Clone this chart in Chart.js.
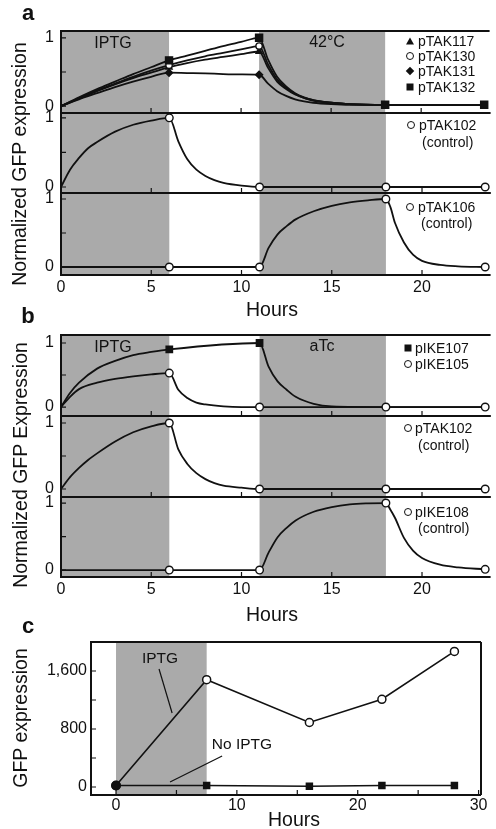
<!DOCTYPE html>
<html>
<head>
<meta charset="utf-8">
<script src="https://cdn.jsdelivr.net/npm/chart.js@4.4.1/dist/chart.umd.min.js"></script>
<style>
  body { margin: 0; background: #fff; }
  #page { position: relative; width: 496px; height: 829px; overflow: hidden;
          font-family: "Liberation Sans", Arial, sans-serif; color: #111; }
  .box { position: absolute; left: 0; width: 496px; }
  .t  { position: absolute; transform: translate(-50%, -50%); line-height: 1; white-space: nowrap; z-index: 2; }
  .l  { position: absolute; transform: translateY(-50%); line-height: 1; white-space: nowrap; font-size: 14px; z-index: 2; }
  .vt { position: absolute; transform: translate(-50%, -50%) rotate(-90deg); line-height: 1;
        white-space: nowrap; font-size: 19.5px; z-index: 2; }
  .mk { position: absolute; transform: translate(-50%, -50%); z-index: 2; box-sizing: border-box; }
  .tri  { width: 0; height: 0; border-left: 4px solid transparent; border-right: 4px solid transparent; border-bottom: 7px solid #111; }
  .circ { width: 8px; height: 8px; border: 1.5px solid #111; border-radius: 50%; background: #fff; }
  .dia  { width: 6px; height: 6px; background: #111; transform: translate(-50%, -50%) rotate(45deg); }
  .sq   { width: 7px; height: 7px; background: #111; }
  .big  { font-size: 19.5px; }
  .let  { font-size: 22px; font-weight: bold; }
</style>
</head>
<body>
<div id="page">
  <!-- panel a -->
  <div class="t let" style="left:28px;top:13px">a</div>
  <div class="vt" style="left:20px;top:164px">Normalized GFP expression</div>
  <div class="t" style="left:113px;top:43px;font-size:16px">IPTG</div>
  <div class="t" style="left:327px;top:42px;font-size:16px">42°C</div>
  <div class="mk tri"  style="left:410px;top:41px"></div><div class="l" style="left:418px;top:41px">pTAK117</div>
  <div class="mk circ" style="left:410px;top:56px"></div><div class="l" style="left:418px;top:56px">pTAK130</div>
  <div class="mk dia"  style="left:410px;top:71px"></div><div class="l" style="left:418px;top:71px">pTAK131</div>
  <div class="mk sq"   style="left:410px;top:87px"></div><div class="l" style="left:418px;top:87px">pTAK132</div>
  <div class="mk circ" style="left:411px;top:125px"></div><div class="l" style="left:419px;top:125px">pTAK102</div>
  <div class="l" style="left:422px;top:142px">(control)</div>
  <div class="mk circ" style="left:410px;top:207px"></div><div class="l" style="left:418px;top:207px">pTAK106</div>
  <div class="l" style="left:421px;top:223px">(control)</div>
  <div class="t big" style="left:272px;top:310px">Hours</div>

  <!-- panel b -->
  <div class="t let" style="left:28px;top:316px">b</div>
  <div class="vt" style="left:21px;top:465px">Normalized GFP Expression</div>
  <div class="t" style="left:113px;top:347px;font-size:16px">IPTG</div>
  <div class="t" style="left:322px;top:346px;font-size:16px">aTc</div>
  <div class="mk sq"   style="left:408px;top:348px"></div><div class="l" style="left:415px;top:348px">pIKE107</div>
  <div class="mk circ" style="left:408px;top:364px"></div><div class="l" style="left:415px;top:364px">pIKE105</div>
  <div class="mk circ" style="left:408px;top:428px"></div><div class="l" style="left:415px;top:428px">pTAK102</div>
  <div class="l" style="left:418px;top:445px">(control)</div>
  <div class="mk circ" style="left:408px;top:512px"></div><div class="l" style="left:415px;top:512px">pIKE108</div>
  <div class="l" style="left:418px;top:528px">(control)</div>
  <div class="t big" style="left:272px;top:615px">Hours</div>

  <!-- panel c -->
  <div class="t let" style="left:28px;top:626px">c</div>
  <div class="vt" style="left:21px;top:718px">GFP expression</div>
  <div class="t" style="left:160px;top:658px;font-size:15.5px">IPTG</div>
  <div class="t" style="left:242px;top:744px;font-size:15.5px">No IPTG</div>
  <div class="t big" style="left:294px;top:820px">Hours</div>
</div>

<script>
/* Figure: normalized GFP time courses (a, b) and raw GFP with/without IPTG (c) */

const SHADE = '#aaaaaa';
const INK   = '#111';
const PAD   = 10;

// ---- panel a, top: IPTG 0-6 h, 42°C 11-18 h
const aHoursTop = [0, 1, 2, 3, 4, 5, 6, 7, 8, 9, 10, 11, 11.5, 12, 12.5, 13, 13.5, 14, 15, 16, 18, 23.5];
const aTAK132   = [0, 0.13, 0.25, 0.36, 0.47, 0.57, 0.67, 0.74, 0.81, 0.88, 0.94, 1.0, 0.68, 0.43, 0.29, 0.19, 0.13, 0.09, 0.05, 0.03, 0.02, 0.02];
const aTAK130   = [0, 0.12, 0.23, 0.33, 0.43, 0.52, 0.6, 0.67, 0.73, 0.78, 0.83, 0.88, 0.61, 0.39, 0.27, 0.18, 0.12, 0.09, 0.05, 0.03, 0.02, 0.02];
const aTAK117   = [0, 0.11, 0.22, 0.32, 0.41, 0.49, 0.57, 0.63, 0.68, 0.72, 0.76, 0.8, 0.56, 0.36, 0.25, 0.17, 0.12, 0.08, 0.05, 0.03, 0.02, 0.02];
const aTAK131   = [0, 0.1, 0.19, 0.28, 0.36, 0.43, 0.49, 0.485, 0.48, 0.47, 0.465, 0.46, 0.33, 0.22, 0.15, 0.1, 0.07, 0.05, 0.03, 0.02, 0.02, 0.02];

// ---- panel a, middle / bottom: controls
const aHoursMid = [0, 0.5, 1, 1.5, 2, 3, 4, 5, 6, 6.5, 7, 7.5, 8, 8.5, 9, 10, 11, 18, 23.5];
const aTAK102   = [0, 0.25, 0.42, 0.56, 0.65, 0.8, 0.9, 0.96, 1.0, 0.66, 0.4, 0.25, 0.16, 0.1, 0.06, 0.02, 0, 0, 0];
const aHoursLow = [0, 6, 11, 11.5, 12, 12.5, 13, 14, 15, 16, 17, 18, 18.25, 18.5, 19, 19.5, 20, 21, 22, 23.5];
const aTAK106   = [0, 0, 0, 0.28, 0.48, 0.6, 0.7, 0.82, 0.9, 0.95, 0.98, 1.0, 0.88, 0.65, 0.36, 0.18, 0.09, 0.03, 0.01, 0];

// ---- panel b, top: IPTG 0-6 h, aTc 11-18 h
const bHours107 = [0, 0.5, 1, 2, 3, 4, 5, 6, 11, 11.5, 12, 12.5, 13, 14, 15, 18, 23.5];
const bIKE107   = [0, 0.22, 0.38, 0.6, 0.72, 0.81, 0.86, 0.9, 1.0, 0.63, 0.4, 0.27, 0.16, 0.05, 0.01, 0, 0];
const bHours105 = [0, 0.5, 1, 2, 3, 4, 5, 6, 6.5, 7, 7.5, 8, 9, 10, 11, 18, 23.5];
const bIKE105   = [0, 0.16, 0.28, 0.38, 0.44, 0.48, 0.51, 0.53, 0.27, 0.14, 0.07, 0.04, 0.01, 0, 0, 0, 0];

// ---- panel b, middle / bottom: controls
const bHoursMid = [0, 0.5, 1, 1.5, 2, 3, 4, 5, 6, 6.5, 7, 7.5, 8, 8.5, 9, 10, 11, 18, 23.5];
const bTAK102   = [0, 0.18, 0.32, 0.44, 0.54, 0.72, 0.86, 0.95, 1.0, 0.6, 0.38, 0.24, 0.15, 0.09, 0.05, 0.02, 0, 0, 0];
const bHoursLow = [0, 6, 11, 11.5, 12, 12.5, 13, 14, 15, 16, 17, 18, 18.25, 18.5, 19, 19.5, 20, 21, 22, 23.5];
const bIKE108   = [0, 0, 0, 0.26, 0.49, 0.63, 0.74, 0.87, 0.94, 0.98, 0.995, 1.0, 0.9, 0.78, 0.48, 0.29, 0.18, 0.08, 0.04, 0.01];

const sampleHours = [6, 11, 18, 23.5];   // measured points (markers)
const switchHours = [[0, 6], [11, 18]];  // shaded inducer windows
const abXTicks    = [0, 5, 10, 15, 20];
const abXMarks    = [5, 10, 15, 20];
const abYTicks    = [0, 0.5, 1];
const abYLabels   = [0, 1];

// ---- panel c
const cHours    = [0, 7.5, 16, 22, 28];
const cIPTG     = [20, 1480, 890, 1210, 1870];
const cNoIPTG   = [20, 20, 10, 20, 20];
const cShade    = [[0, 7.5]];
const cXTicks   = [0, 5, 10, 15, 20, 25, 30];
const cXLabels  = [0, 10, 20, 30];
const cYTicks   = [0, 400, 800, 1200, 1600];
const cYLabels  = [0, 800, 1600];
const cPointers = [
  [[3.56, 1628], [4.64, 1021]],   // "IPTG"
  [[8.78, 428], [4.47, 69]]       // "No IPTG"
];

const tickFont = { family: 'Liberation Sans', size: 16 };
const page = document.getElementById('page');

function withCommas(v) {
  return String(v).replace(/\B(?=(\d{3})+(?!\d))/g, ',');
}

function curve(hours, values, marks, style, radius, fill) {
  return {
    data: hours.map((h, i) => ({ x: h, y: values[i] })),
    borderColor: INK,
    borderWidth: 1.8,
    cubicInterpolationMode: 'monotone',
    pointStyle: style,
    pointRadius: c => (c.raw && marks.includes(c.raw.x)) ? radius : 0,
    pointBackgroundColor: fill,
    pointBorderColor: INK,
    pointBorderWidth: 1.4,
    clip: false
  };
}

function makeDeco(o) {
  return {
    id: 'deco',
    beforeDatasetsDraw(chart) {
      const { ctx, chartArea: a, scales: { x, y } } = chart;
      ctx.save();
      ctx.fillStyle = SHADE;
      o.shade.forEach(([s, e]) => {
        const x0 = x.getPixelForValue(s), x1 = x.getPixelForValue(e);
        ctx.fillRect(x0, a.top, x1 - x0, a.bottom - a.top);
      });
      ctx.strokeStyle = INK;
      ctx.lineWidth = 2;
      ctx.beginPath();
      ctx.moveTo(a.left, a.top);    ctx.lineTo(a.left, a.bottom);
      ctx.moveTo(a.left - 1, a.top);    ctx.lineTo(a.right, a.top);
      ctx.moveTo(a.left - 1, a.bottom); ctx.lineTo(a.right, a.bottom);
      if (o.right) { ctx.moveTo(a.right, a.top); ctx.lineTo(a.right, a.bottom); }
      ctx.stroke();
      // inward tick marks
      ctx.lineWidth = 1.2;
      ctx.beginPath();
      y.ticks.forEach(t => {
        const py = y.getPixelForValue(t.value);
        ctx.moveTo(a.left, py); ctx.lineTo(a.left + 5, py);
      });
      o.xMarks.forEach(v => {
        const px = x.getPixelForValue(v);
        ctx.moveTo(px, a.bottom); ctx.lineTo(px, a.bottom - 5);
      });
      ctx.stroke();
      ctx.restore();
    },
    afterDatasetsDraw(chart) {
      if (!o.pointers) return;
      const { ctx, scales: { x, y } } = chart;
      ctx.save();
      ctx.strokeStyle = INK;
      ctx.lineWidth = 1.2;
      o.pointers.forEach(([p, q]) => {
        ctx.beginPath();
        ctx.moveTo(x.getPixelForValue(p[0]), y.getPixelForValue(p[1]));
        ctx.lineTo(x.getPixelForValue(q[0]), y.getPixelForValue(q[1]));
        ctx.stroke();
      });
      ctx.restore();
    }
  };
}

function subplot(top, bottom, o) {
  const axisH = o.axisH || 0;
  const box = document.createElement('div');
  box.className = 'box';
  box.style.top = (top - PAD) + 'px';
  box.style.height = (bottom - top + PAD + (axisH || PAD)) + 'px';
  const cv = document.createElement('canvas');
  box.appendChild(cv);
  page.appendChild(box);

  new Chart(cv, {
    type: 'line',
    data: { datasets: o.datasets },
    options: {
      animation: false,
      responsive: true,
      maintainAspectRatio: false,
      events: [],
      layout: { padding: { top: PAD, bottom: axisH ? 0 : PAD, left: 0, right: o.right || 0 } },
      plugins: { legend: { display: false }, tooltip: { enabled: false } },
      scales: {
        x: {
          type: 'linear', min: o.xMin, max: o.xMax, display: !!axisH,
          grid: { display: false, drawTicks: false }, border: { display: false },
          ticks: { autoSkip: false, maxRotation: 0, padding: o.xPad || 3, font: tickFont, color: INK,
                   callback: v => o.xLabels.includes(v) ? String(v) : '' },
          afterBuildTicks: s => { s.ticks = o.xTicks.map(v => ({ value: v })); },
          afterFit: s => { s.height = axisH; s.paddingLeft = 0; s.paddingRight = 0; }
        },
        y: {
          type: 'linear', min: o.yMin, max: o.yMax,
          grid: { display: false, drawTicks: false }, border: { display: false },
          ticks: { autoSkip: false, padding: o.yPad, font: tickFont, color: INK,
                   callback: v => o.yLabels.includes(v) ? withCommas(v) : '' },
          afterBuildTicks: s => { s.ticks = o.yTicks.map(v => ({ value: v })); },
          afterFit: s => { s.width = o.yW; s.paddingTop = 0; s.paddingBottom = 0; }
        }
      }
    },
    plugins: [makeDeco({ shade: o.shade, xMarks: o.xMarks, right: !!o.right, pointers: o.pointers })]
  });
}

const ab = { xMin: 0, xMax: 23.8, yPad: 7, yW: 61,
             xTicks: abXTicks, xLabels: abXTicks, xMarks: abXMarks,
             yTicks: abYTicks, yLabels: abYLabels, shade: switchHours };

// panel a
subplot(31, 113, Object.assign({}, ab, { yMin: -0.1, yMax: 1.1, datasets: [
  curve(aHoursTop, aTAK132, sampleHours, 'rect', 5, INK),
  curve(aHoursTop, aTAK130, [6, 11], 'circle', 3.2, '#fff'),
  curve(aHoursTop, aTAK117, [6, 11], 'triangle', 3.5, INK),
  curve(aHoursTop, aTAK131, [6, 11], 'rectRot', 3.5, INK)
]}));
subplot(113, 193, Object.assign({}, ab, { yMin: -0.087, yMax: 1.07, datasets: [
  curve(aHoursMid, aTAK102, sampleHours, 'circle', 3.8, '#fff')
]}));
subplot(193, 275, Object.assign({}, ab, { yMin: -0.118, yMax: 1.088, axisH: 48, datasets: [
  curve(aHoursLow, aTAK106, sampleHours, 'circle', 3.8, '#fff')
]}));

// panel b
subplot(335, 416, Object.assign({}, ab, { yMin: -0.14, yMax: 1.125, datasets: [
  curve(bHours105, bIKE105, sampleHours, 'circle', 3.8, '#fff'),
  curve(bHours107, bIKE107, [6, 11], 'rect', 4.5, INK)
]}));
subplot(416, 497, Object.assign({}, ab, { yMin: -0.121, yMax: 1.106, datasets: [
  curve(bHoursMid, bTAK102, sampleHours, 'circle', 3.8, '#fff')
]}));
subplot(497, 577, Object.assign({}, ab, { yMin: -0.104, yMax: 1.09, axisH: 51, datasets: [
  curve(bHoursLow, bIKE108, sampleHours, 'circle', 3.8, '#fff')
]}));

// panel c
subplot(642, 795, {
  xMin: -2.07, xMax: 30.2, yMin: -110, yMax: 2000, yPad: 4, yW: 91, axisH: 34, xPad: 1,
  right: 15, shade: cShade, pointers: cPointers,
  xTicks: cXTicks, xLabels: cXLabels, xMarks: cXTicks,
  yTicks: cYTicks, yLabels: cYLabels,
  datasets: [
    Object.assign(curve(cHours, cIPTG, cHours, 'circle', 4, c => c.dataIndex === 0 ? INK : '#fff'),
                  { cubicInterpolationMode: 'default', tension: 0, borderWidth: 1.6, pointBorderWidth: 1.5 }),
    Object.assign(curve(cHours, cNoIPTG, cHours, c => c.dataIndex === 0 ? 'circle' : 'rect', 4.3, INK),
                  { cubicInterpolationMode: 'default', tension: 0, borderWidth: 1.6 })
  ]
});
</script>
</body>
</html>
